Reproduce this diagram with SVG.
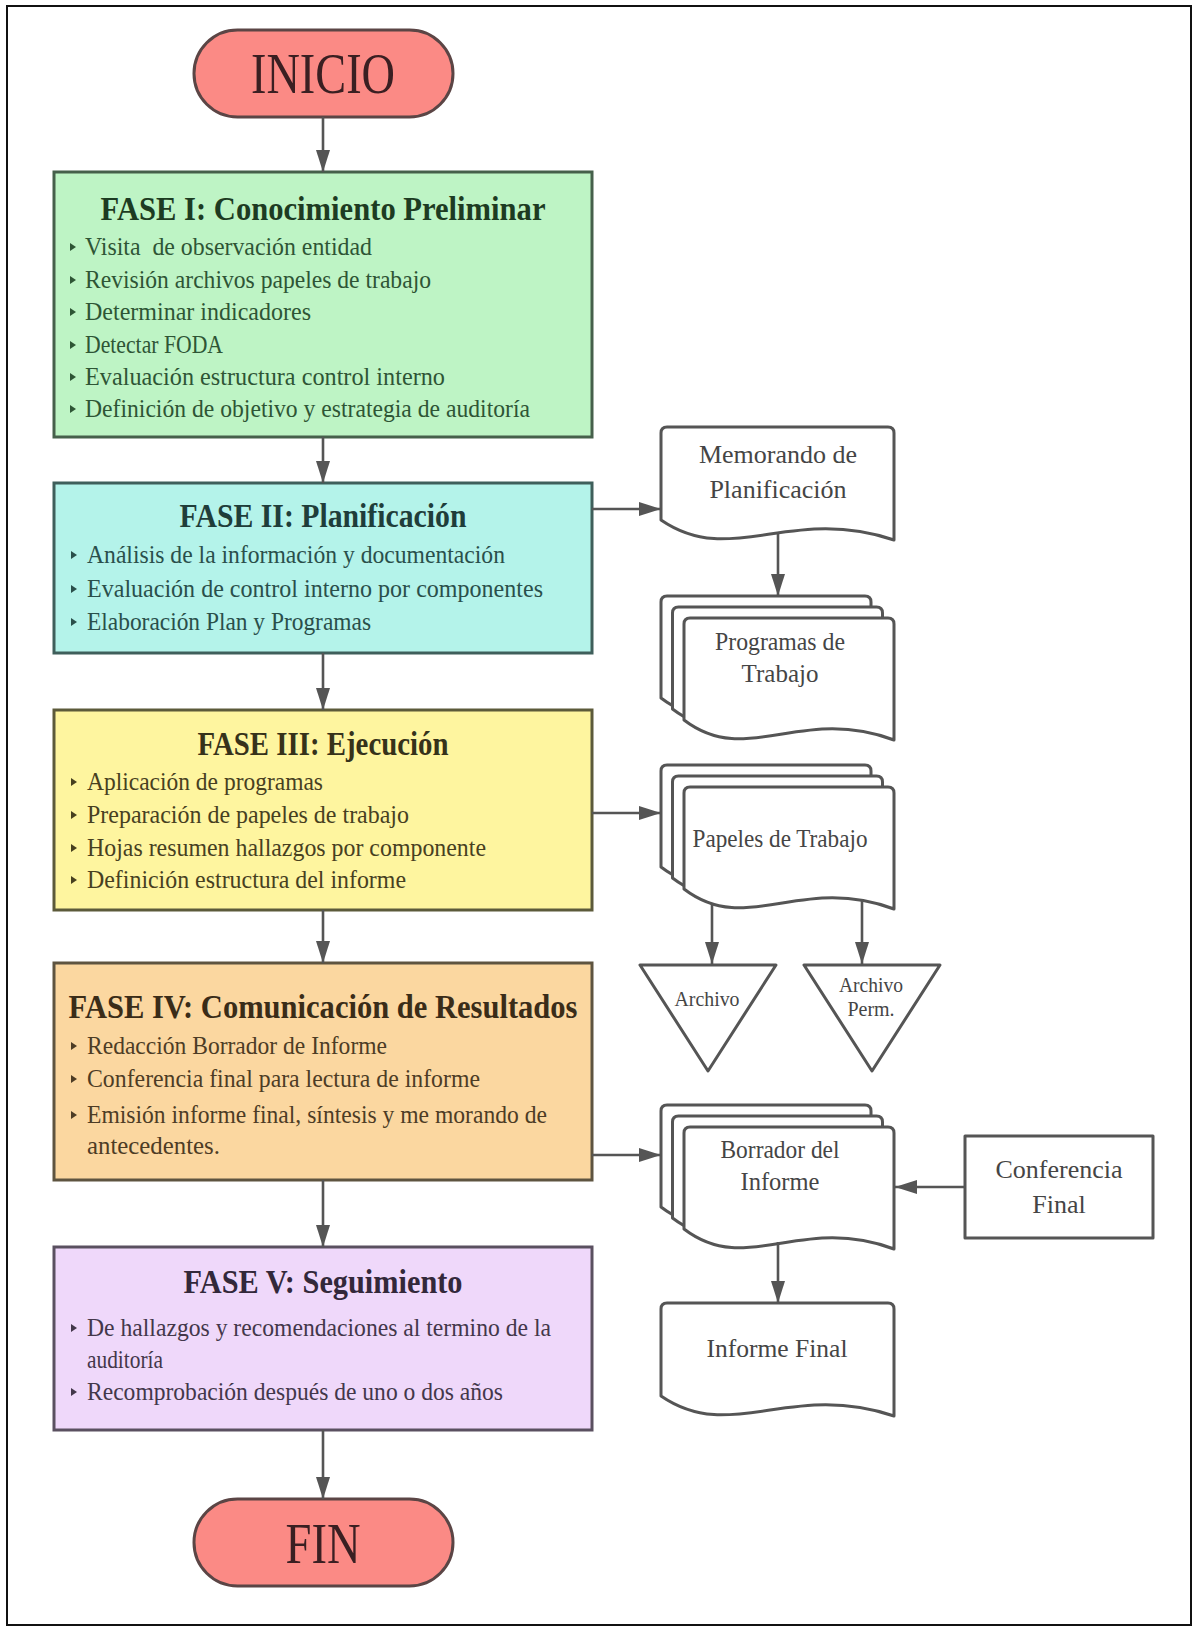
<svg xmlns="http://www.w3.org/2000/svg" xmlns:xlink="http://www.w3.org/1999/xlink" width="1194" height="1628" viewBox="0 0 1194 1628">
<style>
  text { font-family: "Liberation Serif", "Times New Roman", serif; }
  .term { stroke: #5b4545; stroke-width: 3; fill: #fb8a85; }
  .termtxt { font-size: 56px; fill: #3a1f22; text-anchor: middle; }
  .box { stroke-width: 3; }
  .title { font-size: 34px; font-weight: bold; text-anchor: middle; }
  .item { font-size: 25.5px; }
  .doc { fill: #ffffff; stroke: #555555; stroke-width: 3; stroke-linejoin: round; }
  .rtxt { fill: #454545; text-anchor: middle; }
  .conn { stroke: #555555; stroke-width: 2.6; fill: none; marker-end: url(#ah); }
</style>
<defs>
  <marker id="ah" markerUnits="userSpaceOnUse" markerWidth="22" markerHeight="14" refX="22" refY="7" orient="auto">
    <path d="M0,0 L22,7 L0,14 Z" fill="#555555"/>
  </marker>
  <path id="bul" d="M0,-4 L6,0 L0,4 Z"/>
  <path id="doc210" d="M0,102 L0,6 Q0,0 6,0 L204,0 Q210,0 210,6 L210,122 C115.5,87 63,150 0,102 Z"/>
  <path id="doc233" d="M0,93 L0,6 Q0,0 6,0 L227,0 Q233,0 233,6 L233,113 C128.2,78 69.9,141 0,93 Z"/>
</defs>

<rect x="7" y="6" width="1184" height="1619" fill="#ffffff" stroke="#111111" stroke-width="2"/>

<g id="inicio">
  <rect class="term" x="194" y="30" width="259" height="87" rx="43.5"/>
  <text class="termtxt" x="323" y="93" textLength="144" lengthAdjust="spacingAndGlyphs">INICIO</text>
</g>

<g id="fase1">
  <rect class="box" x="54" y="172" width="538" height="265" fill="#bef4c5" stroke="#46604b"/>
  <text class="title" x="323" y="220" fill="#1d3b22" textLength="445" lengthAdjust="spacingAndGlyphs">FASE I: Conocimiento Preliminar</text>
  <g fill="#2e5535">
    <use href="#bul" x="70" y="247"/><text class="item" x="85" y="255" xml:space="preserve" textLength="287" lengthAdjust="spacingAndGlyphs">Visita  de observación entidad</text>
    <use href="#bul" x="70" y="280"/><text class="item" x="85" y="288" textLength="346" lengthAdjust="spacingAndGlyphs">Revisión archivos papeles de trabajo</text>
    <use href="#bul" x="70" y="312"/><text class="item" x="85" y="320" textLength="226" lengthAdjust="spacingAndGlyphs">Determinar indicadores</text>
    <use href="#bul" x="70" y="345"/><text class="item" x="85" y="353" textLength="138" lengthAdjust="spacingAndGlyphs">Detectar FODA</text>
    <use href="#bul" x="70" y="377"/><text class="item" x="85" y="385" textLength="360" lengthAdjust="spacingAndGlyphs">Evaluación estructura control interno</text>
    <use href="#bul" x="70" y="409"/><text class="item" x="85" y="417" textLength="445" lengthAdjust="spacingAndGlyphs">Definición de objetivo y estrategia de auditoría</text>
  </g>
</g>

<g id="fase2">
  <rect class="box" x="54" y="483" width="538" height="170" fill="#b4f3ea" stroke="#3f5f5b"/>
  <text class="title" x="323" y="527" fill="#1f3d3a" textLength="287" lengthAdjust="spacingAndGlyphs">FASE II: Planificación</text>
  <g fill="#2a4f4b">
    <use href="#bul" x="71" y="555"/><text class="item" x="87" y="563" textLength="418" lengthAdjust="spacingAndGlyphs">Análisis de la información y documentación</text>
    <use href="#bul" x="71" y="589"/><text class="item" x="87" y="597" textLength="456" lengthAdjust="spacingAndGlyphs">Evaluación de control interno por componentes</text>
    <use href="#bul" x="71" y="622"/><text class="item" x="87" y="630" textLength="284" lengthAdjust="spacingAndGlyphs">Elaboración Plan y Programas</text>
  </g>
</g>

<g id="fase3">
  <rect class="box" x="54" y="710" width="538" height="200" fill="#fef59f" stroke="#5c5a3a"/>
  <text class="title" x="323" y="755" fill="#36321a" textLength="251" lengthAdjust="spacingAndGlyphs">FASE III: Ejecución</text>
  <g fill="#47401f">
    <use href="#bul" x="71" y="782"/><text class="item" x="87" y="790" textLength="236" lengthAdjust="spacingAndGlyphs">Aplicación de programas</text>
    <use href="#bul" x="71" y="815"/><text class="item" x="87" y="823" textLength="322" lengthAdjust="spacingAndGlyphs">Preparación de papeles de trabajo</text>
    <use href="#bul" x="71" y="848"/><text class="item" x="87" y="856" textLength="399" lengthAdjust="spacingAndGlyphs">Hojas resumen hallazgos por componente</text>
    <use href="#bul" x="71" y="880"/><text class="item" x="87" y="888" textLength="319" lengthAdjust="spacingAndGlyphs">Definición estructura del informe</text>
  </g>
</g>

<g id="fase4">
  <rect class="box" x="54" y="963" width="538" height="217" fill="#fbd7a0" stroke="#5e5440"/>
  <text class="title" x="323" y="1018" fill="#3a2c18" textLength="509" lengthAdjust="spacingAndGlyphs">FASE IV: Comunicación de Resultados</text>
  <g fill="#4d3c25">
    <use href="#bul" x="71" y="1046"/><text class="item" x="87" y="1054" textLength="300" lengthAdjust="spacingAndGlyphs">Redacción Borrador de Informe</text>
    <use href="#bul" x="71" y="1079"/><text class="item" x="87" y="1087" textLength="393" lengthAdjust="spacingAndGlyphs">Conferencia final para lectura de informe</text>
    <use href="#bul" x="71" y="1115"/><text class="item" x="87" y="1123" textLength="460" lengthAdjust="spacingAndGlyphs">Emisión informe final, síntesis y me morando de</text>
    <text class="item" x="87" y="1154" textLength="133" lengthAdjust="spacingAndGlyphs">antecedentes.</text>
  </g>
</g>

<g id="fase5">
  <rect class="box" x="54" y="1247" width="538" height="183" fill="#efd8fa" stroke="#5a5060"/>
  <text class="title" x="323" y="1293" fill="#33283a" textLength="279" lengthAdjust="spacingAndGlyphs">FASE V: Seguimiento</text>
  <g fill="#43374a">
    <use href="#bul" x="71" y="1328"/><text class="item" x="87" y="1336" textLength="464" lengthAdjust="spacingAndGlyphs">De hallazgos y recomendaciones al termino de la</text>
    <text class="item" x="87" y="1368" textLength="76" lengthAdjust="spacingAndGlyphs">auditoría</text>
    <use href="#bul" x="71" y="1392"/><text class="item" x="87" y="1400" textLength="416" lengthAdjust="spacingAndGlyphs">Recomprobación después de uno o dos años</text>
  </g>
</g>

<g id="fin">
  <rect class="term" x="194" y="1499" width="259" height="87" rx="43.5"/>
  <text class="termtxt" x="323" y="1563" textLength="75" lengthAdjust="spacingAndGlyphs">FIN</text>
</g>

<g id="memorando">
  <use href="#doc233" class="doc" x="661" y="427"/>
  <text class="rtxt" x="778" y="463" font-size="26">Memorando de</text>
  <text class="rtxt" x="778" y="498" font-size="26">Planificación</text>
</g>

<g id="programas">
  <use href="#doc210" class="doc" x="661" y="596"/>
  <use href="#doc210" class="doc" x="672.5" y="607"/>
  <use href="#doc210" class="doc" x="684" y="618"/>
  <text class="rtxt" x="780" y="650" font-size="25" textLength="130" lengthAdjust="spacingAndGlyphs">Programas de</text>
  <text class="rtxt" x="780" y="682" font-size="25">Trabajo</text>
</g>

<g id="papeles">
  <use href="#doc210" class="doc" x="661" y="765"/>
  <use href="#doc210" class="doc" x="672.5" y="776"/>
  <use href="#doc210" class="doc" x="684" y="787"/>
  <text class="rtxt" x="780" y="847" font-size="25" textLength="175" lengthAdjust="spacingAndGlyphs">Papeles de Trabajo</text>
</g>

<g id="archivo">
  <polygon class="doc" points="640,965 776,965 708,1071"/>
  <text class="rtxt" x="707" y="1006" font-size="21" textLength="65" lengthAdjust="spacingAndGlyphs">Archivo</text>
</g>

<g id="archivo-perm">
  <polygon class="doc" points="804,965 940,965 872,1071"/>
  <text class="rtxt" x="871" y="992" font-size="20" textLength="64" lengthAdjust="spacingAndGlyphs">Archivo</text>
  <text class="rtxt" x="871" y="1016" font-size="20">Perm.</text>
</g>

<g id="borrador">
  <use href="#doc210" class="doc" x="661" y="1105"/>
  <use href="#doc210" class="doc" x="672.5" y="1116"/>
  <use href="#doc210" class="doc" x="684" y="1127"/>
  <text class="rtxt" x="780" y="1158" font-size="24.5" textLength="119" lengthAdjust="spacingAndGlyphs">Borrador del</text>
  <text class="rtxt" x="780" y="1190" font-size="24.5">Informe</text>
</g>

<g id="conferencia">
  <rect class="doc" x="965" y="1136" width="188" height="102"/>
  <text class="rtxt" x="1059" y="1178" font-size="26">Conferencia</text>
  <text class="rtxt" x="1059" y="1213" font-size="26">Final</text>
</g>

<g id="informe-final">
  <use href="#doc233" class="doc" x="661" y="1303"/>
  <text class="rtxt" x="777" y="1357" font-size="26" textLength="141" lengthAdjust="spacingAndGlyphs">Informe Final</text>
</g>

<g id="connectors">
  <path class="conn" d="M323,117 L323,172"/>
  <path class="conn" d="M323,437 L323,483"/>
  <path class="conn" d="M323,653 L323,710"/>
  <path class="conn" d="M323,910 L323,963"/>
  <path class="conn" d="M323,1180 L323,1247"/>
  <path class="conn" d="M323,1430 L323,1499"/>
  <path class="conn" d="M592,509 L661,509"/>
  <path class="conn" d="M778,533 L778,596"/>
  <path class="conn" d="M592,813 L661,813"/>
  <path class="conn" d="M712,903 L712,964"/>
  <path class="conn" d="M862,899 L862,964"/>
  <path class="conn" d="M592,1155 L661,1155"/>
  <path class="conn" d="M965,1187 L895,1187"/>
  <path class="conn" d="M778,1242 L778,1303"/>
</g>
</svg>
